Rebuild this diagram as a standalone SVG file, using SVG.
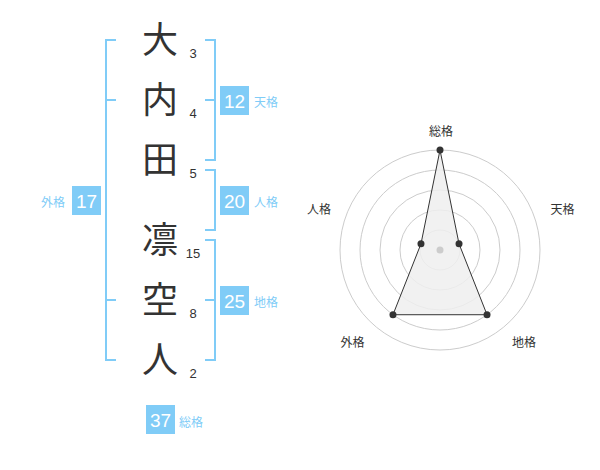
<svg xmlns="http://www.w3.org/2000/svg" width="600" height="470" viewBox="0 0 600 470">
<style>
.ch{font-family:"Noto Sans CJK JP","Noto Sans CJK SC",sans-serif;font-size:36px;fill:#333;text-anchor:middle}
.num{font-family:"Liberation Sans",Arial,sans-serif;font-size:13px;fill:#333;text-anchor:middle}
.box{fill:#80ccf7}
.bn{font-family:"Liberation Sans",Arial,sans-serif;font-size:19px;fill:#fff;text-anchor:middle}
.lb{font-family:"Noto Sans CJK JP","Noto Sans CJK SC",sans-serif;font-size:12px;fill:#80ccf7}
.br{fill:none;stroke:#80ccf7;stroke-width:2}
.ring{fill:none;stroke:#cccccc;stroke-width:1}
.rl{font-family:"Noto Sans CJK JP","Noto Sans CJK SC",sans-serif;font-size:12px;fill:#333;text-anchor:middle}
.dot{fill:#333}
</style>
<rect width="600" height="470" fill="#fff"/>
<g id="connectors">
<path class="br" d="M116,40H106V360H116M106,100H116M106,300H116"/>
<path class="br" d="M205,40H215V160H205M205,100H215"/>
<path class="br" d="M205,170H215V230H205"/>
<path class="br" d="M205,240H215V360H205M205,300H215"/>
</g>
<g id="char-1"><text class="ch" x="160" y="53">大</text><text class="num" x="193" y="58">3</text></g>
<g id="char-2"><text class="ch" x="160" y="113">内</text><text class="num" x="193" y="118">4</text></g>
<g id="char-3"><text class="ch" x="160" y="173">田</text><text class="num" x="193" y="178">5</text></g>
<g id="char-4"><text class="ch" x="160" y="253">凛</text><text class="num" x="193" y="258">15</text></g>
<g id="char-5"><text class="ch" x="160" y="313">空</text><text class="num" x="193" y="318">8</text></g>
<g id="char-6"><text class="ch" x="160" y="373">人</text><text class="num" x="193" y="378">2</text></g>
<g id="tenkaku"><rect class="box" x="220" y="86" width="29" height="29"/><text class="bn" x="234.5" y="107.5">12</text><text class="lb" x="254" y="107">天格</text></g>
<g id="jinkaku"><rect class="box" x="220" y="186" width="29" height="29"/><text class="bn" x="234.5" y="207.5">20</text><text class="lb" x="254" y="207">人格</text></g>
<g id="chikaku"><rect class="box" x="220" y="286" width="29" height="29"/><text class="bn" x="234.5" y="307.5">25</text><text class="lb" x="254" y="307">地格</text></g>
<g id="gaikaku"><rect class="box" x="72" y="186" width="29" height="29"/><text class="bn" x="86.5" y="207.5">17</text><text class="lb" x="41" y="207">外格</text></g>
<g id="soukaku"><rect class="box" x="146" y="405" width="29" height="29"/><text class="bn" x="160.5" y="426.5">37</text><text class="lb" x="179" y="427">総格</text></g>
<g id="radar">
<circle class="ring" cx="440" cy="250" r="20"/>
<circle class="ring" cx="440" cy="250" r="40"/>
<circle class="ring" cx="440" cy="250" r="60"/>
<circle class="ring" cx="440" cy="250" r="80"/>
<circle class="ring" cx="440" cy="250" r="100"/>
<polygon points="440,150 459.02,243.82 487.02,314.72 392.98,314.72 420.98,243.82" fill="#eeeeee" fill-opacity="0.85" stroke="#333" stroke-width="1"/>
<circle cx="440" cy="250" r="3.5" fill="#cccccc"/>
<circle class="dot" cx="440" cy="150" r="3.5"/>
<circle class="dot" cx="459.02" cy="243.82" r="3.5"/>
<circle class="dot" cx="487.02" cy="314.72" r="3.5"/>
<circle class="dot" cx="392.98" cy="314.72" r="3.5"/>
<circle class="dot" cx="420.98" cy="243.82" r="3.5"/>
<text class="rl" x="441" y="135.5">総格</text>
<text class="rl" x="562.5" y="213.5">天格</text>
<text class="rl" x="524" y="346.5">地格</text>
<text class="rl" x="352.5" y="346.5">外格</text>
<text class="rl" x="319" y="213.5">人格</text>
</g>
</svg>
